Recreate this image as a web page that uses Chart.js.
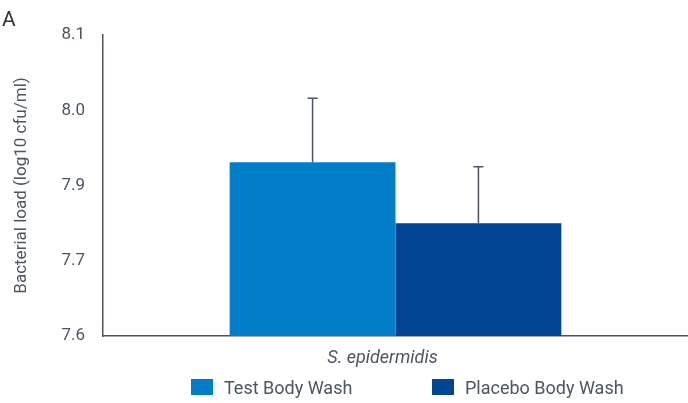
<!DOCTYPE html>
<html>
<head>
<meta charset="utf-8">
<script src="https://cdn.jsdelivr.net/npm/chart.js@4"></script>
<style>
html,body{margin:0;padding:0;background:#fff;}
#wrap{width:688px;height:403px;position:relative;}
</style>
</head>
<body>
<div id="wrap"><canvas id="c"></canvas></div>
<script>
const categories = ['S. epidermidis'];
const seriesNames = ['Test Body Wash', 'Placebo Body Wash'];
const testValues = [7.831];
const placeboValues = [7.750];
const testErrors = [0.085];
const placeboErrors = [0.075];
const yTickLabels = ['7.6', '7.7', '7.9', '8.0', '8.1'];

const TEXT = '#4b5563';
const AXIS = '#4b5563';
const COLORS = ['#027ec9', '#014593'];
const ERRS = [testErrors, placeboErrors];

const errorBars = {
  id: 'errorBars',
  afterDatasetsDraw(chart) {
    const ctx = chart.ctx, y = chart.scales.y;
    ctx.save();
    ctx.strokeStyle = '#4b5563';
    ctx.lineWidth = 1.5;
    chart.data.datasets.forEach((ds, di) => {
      const meta = chart.getDatasetMeta(di);
      meta.data.forEach((bar, i) => {
        const v = ds.data[i], e = ERRS[di][i];
        const yTop = y.getPixelForValue(v + e);
        const yBase = y.getPixelForValue(v);
        ctx.beginPath();
        ctx.moveTo(bar.x, yBase);
        ctx.lineTo(bar.x, yTop);
        ctx.moveTo(bar.x - 5, yTop);
        ctx.lineTo(bar.x + 5, yTop);
        ctx.stroke();
      });
    });
    ctx.restore();
  }
};

const extras = {
  id: 'extras',
  afterDraw(chart) {
    const ctx = chart.ctx;
    ctx.save();
    ctx.fillStyle = '#333';
    ctx.font = '21px Roboto';
    ctx.textBaseline = 'middle';
    ctx.textAlign = 'left';
    ctx.fillText('A', 2, 21);
    // legend
    const xs = [191, 432];
    ctx.font = '18px Roboto';
    chart.data.datasets.forEach((ds, i) => {
      ctx.fillStyle = ds.backgroundColor;
      ctx.fillRect(xs[i], 379, 22, 16);
      ctx.fillStyle = TEXT;
      ctx.fillText(ds.label, xs[i] + 33, 389);
    });
    ctx.restore();
  }
};

new Chart(document.getElementById('c'), {
  type: 'bar',
  data: {
    labels: categories,
    datasets: [
      { label: seriesNames[0], data: testValues, backgroundColor: COLORS[0] },
      { label: seriesNames[1], data: placeboValues, backgroundColor: COLORS[1] }
    ]
  },
  options: {
    responsive: true,
    maintainAspectRatio: false,
    animation: false,
    layout: { padding: { top: 35, right: 0, bottom: 0, left: 0 } },
    categoryPercentage: 0.567,
    barPercentage: 1.0,
    plugins: { legend: { display: false }, tooltip: { enabled: false } },
    scales: {
      x: {
        grid: { display: false, drawTicks: false },
        border: { display: true, color: AXIS, width: 1.5 },
        ticks: { color: TEXT, font: { family: 'Roboto', size: 18, style: 'italic' }, padding: 12, labelOffset: -13 },
        afterFit(s) { s.height = 67; }
      },
      y: {
        min: 7.6, max: 8.0,
        grid: { display: false, drawTicks: false },
        border: { display: true, color: AXIS, width: 1.5 },
        ticks: {
          stepSize: 0.1, color: TEXT, padding: 18,
          font: { family: 'Roboto', size: 17 },
          callback: (v, i) => yTickLabels[i]
        },
        title: {
          display: true, text: 'Bacterial load (log10 cfu/ml)', color: TEXT,
          font: { family: 'Roboto', size: 17 }, padding: { top: 12, bottom: 0 }
        },
        afterFit(s) { s.width = 103; }
      }
    }
  },
  plugins: [errorBars, extras]
});
</script>
</body>
</html>
